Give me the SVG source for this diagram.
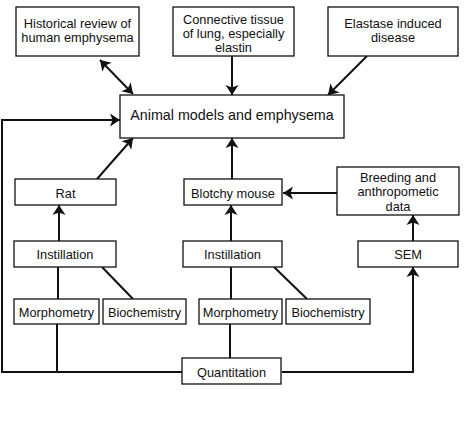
<svg xmlns="http://www.w3.org/2000/svg" width="465" height="438" viewBox="0 0 465 438">
<style>
.box{fill:#fff;stroke:#111;stroke-width:1.3}
.t{font-family:"Liberation Sans",Arial,sans-serif;font-size:12.8px;fill:#111;text-anchor:middle}
.big{font-size:14.3px}
.c{fill:none;stroke:#111;stroke-width:2}
.a{marker-end:url(#ah)}
</style>
<defs>
<marker id="ah" markerUnits="userSpaceOnUse" markerWidth="11" markerHeight="14" viewBox="0 0 11 14" refX="10" refY="7" orient="auto">
<path d="M0,0.5 L10,7 L0,13.5 L2.5,7 Z" fill="#111"/>
</marker>
<marker id="as" markerUnits="userSpaceOnUse" markerWidth="11" markerHeight="14" viewBox="0 0 11 14" refX="1" refY="7" orient="auto">
<path d="M11,0.5 L1,7 L11,13.5 L8.5,7 Z" fill="#111"/>
</marker>
</defs>
<rect width="465" height="438" fill="#fff"/>
<g id="connectors">
<line class="c" x1="100" y1="60" x2="133" y2="94" marker-start="url(#as)" marker-end="url(#ah)"/>
<line class="c a" x1="232" y1="56" x2="232" y2="95"/>
<line class="c a" x1="367" y1="56" x2="328" y2="95"/>
<path class="c a" d="M182,372 H2 V120 H120"/>
<line class="c" x1="57" y1="324" x2="57" y2="372"/>
<path class="c a" d="M282,372 H413 V267"/>
<line class="c a" x1="97" y1="179" x2="133" y2="138"/>
<line class="c a" x1="232" y1="179" x2="232" y2="138"/>
<line class="c a" x1="337" y1="193" x2="283" y2="193"/>
<line class="c a" x1="59" y1="241" x2="59" y2="205"/>
<line class="c a" x1="231" y1="241" x2="231" y2="205"/>
<line class="c a" x1="413" y1="241" x2="413" y2="215"/>
<line class="c" x1="58" y1="267" x2="58" y2="299"/>
<line class="c" x1="102" y1="267" x2="133" y2="299"/>
<line class="c" x1="231" y1="267" x2="231" y2="299"/>
<line class="c" x1="274" y1="267" x2="307" y2="299"/>
<line class="c" x1="230" y1="324" x2="230" y2="358"/>
</g>
<g id="historical"><rect class="box" x="16" y="7" width="123" height="49"/><text class="t" x="77.5" y="27.5">Historical review of</text><text class="t" x="77.5" y="41.5">human emphysema</text></g>
<g id="connective"><rect class="box" x="173" y="7" width="121" height="49"/><text class="t" x="233.5" y="23.5">Connective tissue</text><text class="t" x="233.5" y="37.5">of lung, especially</text><text class="t" x="233.5" y="51.5">elastin</text></g>
<g id="elastase"><rect class="box" x="328" y="7" width="130" height="49"/><text class="t" x="393" y="27.5">Elastase induced</text><text class="t" x="393" y="41.5">disease</text></g>
<g id="animal"><rect class="box" x="120" y="95" width="224" height="43"/><text class="t big" x="232" y="120">Animal models and emphysema</text></g>
<g id="rat"><rect class="box" x="15" y="179" width="101" height="26"/><text class="t" x="65.5" y="197.5">Rat</text></g>
<g id="blotchy"><rect class="box" x="184" y="179" width="98" height="26"/><text class="t" x="233" y="197.5">Blotchy mouse</text></g>
<g id="breeding"><rect class="box" x="337" y="167" width="122" height="48"/><text class="t" x="398" y="181.5">Breeding and</text><text class="t" x="398" y="196">anthropometic</text><text class="t" x="398" y="210.5">data</text></g>
<g id="instillation1"><rect class="box" x="14" y="241" width="102" height="26"/><text class="t" x="65" y="258.5">Instillation</text></g>
<g id="instillation2"><rect class="box" x="183" y="241" width="99" height="26"/><text class="t" x="232.5" y="258.5">Instillation</text></g>
<g id="sem"><rect class="box" x="358" y="241" width="100" height="26"/><text class="t" x="408" y="258.5">SEM</text></g>
<g id="morph1"><rect class="box" x="14" y="299" width="85" height="25"/><text class="t" x="56.5" y="316.5">Morphometry</text></g>
<g id="bio1"><rect class="box" x="103" y="299" width="83" height="25"/><text class="t" x="144.5" y="316.5">Biochemistry</text></g>
<g id="morph2"><rect class="box" x="199" y="299" width="83" height="25"/><text class="t" x="240.5" y="316.5">Morphometry</text></g>
<g id="bio2"><rect class="box" x="286" y="299" width="84" height="25"/><text class="t" x="328" y="316.5">Biochemistry</text></g>
<g id="quantitation"><rect class="box" x="182" y="358" width="99" height="26"/><text class="t" x="231.5" y="376.5">Quantitation</text></g>
</svg>
